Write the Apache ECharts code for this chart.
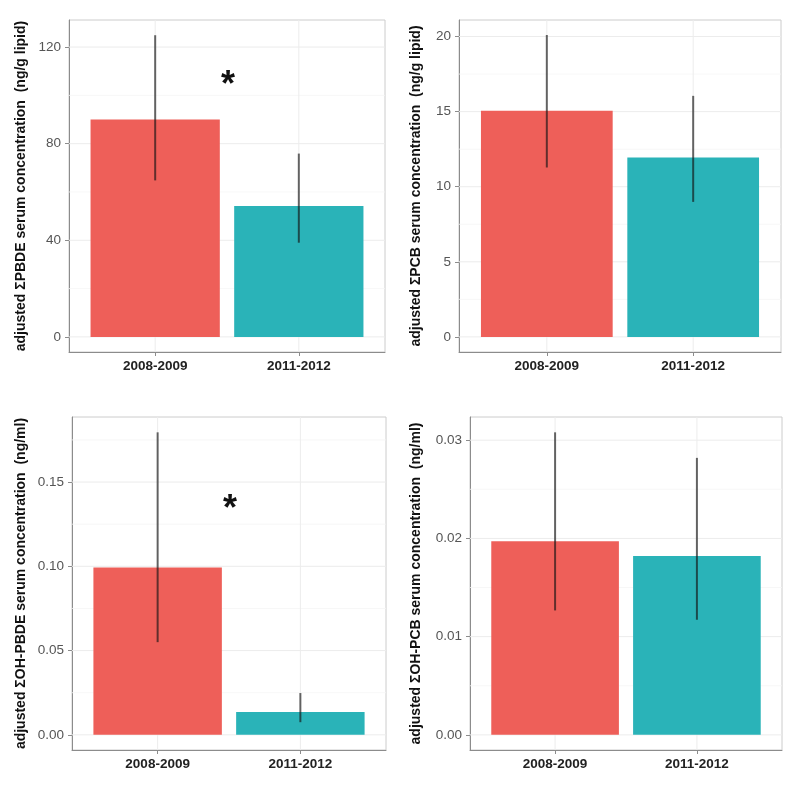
<!DOCTYPE html>
<html>
<head>
<meta charset="utf-8">
<script src="https://cdn.jsdelivr.net/npm/echarts@6/dist/echarts.min.js"></script>
<style>
html,body{margin:0;padding:0;background:#fff;}
#chart{width:800px;height:785px;}
</style>
</head>
<body>
<div id="chart"></div>
<script>
// ---- data ----
const categories = ['2008-2009', '2011-2012'];
const xPositions = [1, 2];

const pbdeMean = [90.0, 54.2];
const pbdeLow  = [64.8, 39.0];
const pbdeHigh = [124.9, 75.9];
const pbdeTicks = [0, 40, 80, 120];
const pbdeMinor = [20, 60, 100];
const pbdeStar = [1.5, 107];

const pcbMean = [15.05, 11.94];
const pcbLow  = [11.28, 8.99];
const pcbHigh = [20.1, 16.05];
const pcbTicks = [0, 5, 10, 15, 20];
const pcbMinor = [2.5, 7.5, 12.5, 17.5];

const ohpbdeMean = [0.0993, 0.0135];
const ohpbdeLow  = [0.055, 0.0075];
const ohpbdeHigh = [0.1795, 0.0248];
const ohpbdeTicks = [0, 0.05, 0.10, 0.15];
const ohpbdeMinor = [0.025, 0.075, 0.125, 0.175];
const ohpbdeStar = [1.5, 0.138];

const ohpcbMean = [0.0197, 0.0182];
const ohpcbLow  = [0.01267, 0.01172];
const ohpcbHigh = [0.0308, 0.0282];
const ohpcbTicks = [0, 0.01, 0.02, 0.03];
const ohpcbMinor = [0.005, 0.015, 0.025];

const yTitles = [
  'adjusted \u03A3PBDE serum concentration  (ng/g lipid)',
  'adjusted \u03A3PCB serum concentration  (ng/g lipid)',
  'adjusted \u03A3OH-PBDE serum concentration  (ng/ml)',
  'adjusted \u03A3OH-PCB serum concentration  (ng/ml)'
];

// ---- layout / style ----
const barColors = ['#EE5F59', '#2AB3B8'];
const FONT = '"Liberation Sans", Arial, Helvetica, sans-serif';
const panels = [
  {mean: pbdeMean, low: pbdeLow, high: pbdeHigh, ticks: pbdeTicks, minor: pbdeMinor, star: pbdeStar, dec: 0,
   min: -6.25, max: 131.2, grid: {left: 69, top: 20, width: 316, height: 332}, nameGap: 41},
  {mean: pcbMean, low: pcbLow, high: pcbHigh, ticks: pcbTicks, minor: pcbMinor, star: null, dec: 0,
   min: -1.005, max: 21.1, grid: {left: 459, top: 20, width: 322, height: 332}, nameGap: 36},
  {mean: ohpbdeMean, low: ohpbdeLow, high: ohpbdeHigh, ticks: ohpbdeTicks, minor: ohpbdeMinor, star: ohpbdeStar, dec: 2,
   min: -0.009, max: 0.1886, grid: {left: 72, top: 417, width: 314, height: 333}, nameGap: 44},
  {mean: ohpcbMean, low: ohpcbLow, high: ohpcbHigh, ticks: ohpcbTicks, minor: ohpcbMinor, star: null, dec: 2,
   min: -0.00154, max: 0.03236, grid: {left: 470, top: 417, width: 312, height: 333}, nameGap: 47}
];

const grids = [], xAxes = [], yAxes = [], series = [];

panels.forEach((p, i) => {
  grids.push(Object.assign({show: true, borderColor: '#cccccc', borderWidth: 1, backgroundColor: 'transparent'}, p.grid));
  xAxes.push({
    type: 'value', gridIndex: i, min: 0.4, max: 2.6,
    axisLine: {show: true, onZero: false, lineStyle: {color: '#8c8c8c', width: 1}},
    axisTick: {show: true, customValues: xPositions, length: 4, lineStyle: {color: '#8c8c8c'}},
    axisLabel: {show: true, customValues: xPositions, formatter: v => categories[Math.round(v) - 1],
      fontFamily: FONT, fontWeight: 'bold', fontSize: 13.5, color: '#222', margin: 7},
    splitLine: {show: false}
  });
  yAxes.push({
    type: 'value', gridIndex: i, min: p.min, max: p.max,
    name: yTitles[i], nameLocation: 'middle', nameGap: p.nameGap, nameRotate: 90,
    nameTextStyle: {fontFamily: FONT, fontWeight: 'bold', fontSize: 14, color: '#111'},
    axisLine: {show: true, onZero: false, lineStyle: {color: '#8c8c8c', width: 1}},
    axisTick: {show: true, customValues: p.ticks, length: 4, lineStyle: {color: '#8c8c8c'}},
    axisLabel: {show: true, customValues: p.ticks, formatter: v => v.toFixed(p.dec),
      fontFamily: FONT, fontSize: 13.5, color: '#555', margin: 8},
    splitLine: {show: false}
  });

  // grid lines (major and minor, horizontal), vertical at categories
  series.push({
    type: 'custom', xAxisIndex: i, yAxisIndex: i, silent: true, z: 1,
    data: p.ticks.map(v => [v, 1]).concat(p.minor.map(v => [v, 0])),
    renderItem: (params, api) => {
      const v = api.value(0), major = api.value(1) === 1;
      const a = api.coord([0.4, v]), b = api.coord([2.6, v]);
      return {type: 'line', shape: {x1: a[0], y1: a[1], x2: b[0], y2: b[1]},
        style: {stroke: major ? '#ececec' : '#f5f5f5', lineWidth: major ? 1 : 0.8}};
    }
  });
  series.push({
    type: 'custom', xAxisIndex: i, yAxisIndex: i, silent: true, z: 1,
    data: xPositions.map(x => [x]),
    renderItem: (params, api) => {
      const x = api.value(0);
      const a = api.coord([x, p.min]), b = api.coord([x, p.max]);
      return {type: 'line', shape: {x1: a[0], y1: a[1], x2: b[0], y2: b[1]},
        style: {stroke: '#ececec', lineWidth: 1}};
    }
  });
  // bars
  series.push({
    type: 'custom', xAxisIndex: i, yAxisIndex: i, z: 2,
    data: xPositions.map((x, k) => [x, p.mean[k]]),
    renderItem: (params, api) => {
      const x = api.value(0), y = api.value(1);
      const a = api.coord([x - 0.45, y]), b = api.coord([x + 0.45, 0]);
      return {type: 'rect', shape: {x: a[0], y: a[1], width: b[0] - a[0], height: b[1] - a[1]},
        style: {fill: barColors[params.dataIndex]}};
    }
  });
  // error bars
  series.push({
    type: 'custom', xAxisIndex: i, yAxisIndex: i, z: 3,
    data: xPositions.map((x, k) => [x, p.low[k], p.high[k]]),
    renderItem: (params, api) => {
      const x = api.value(0);
      const a = api.coord([x, api.value(1)]), b = api.coord([x, api.value(2)]);
      return {type: 'line', shape: {x1: a[0], y1: a[1], x2: b[0], y2: b[1]},
        style: {stroke: 'rgba(20,20,20,0.65)', lineWidth: 2}};
    }
  });
  // significance star
  if (p.star) {
    series.push({
      type: 'custom', xAxisIndex: i, yAxisIndex: i, z: 4,
      data: [p.star],
      renderItem: (params, api) => {
        const c = api.coord([api.value(0), api.value(1)]);
        return {type: 'text', x: c[0] + 1, y: c[1] + 8,
          style: {text: '*', font: 'bold 36px ' + FONT, fill: '#111', align: 'center', verticalAlign: 'middle'}};
      }
    });
  }
});

const chart = echarts.init(document.getElementById('chart'), null, {renderer: 'canvas'});
chart.setOption({
  animation: false,
  backgroundColor: '#ffffff',
  grid: grids,
  xAxis: xAxes,
  yAxis: yAxes,
  series: series
});
</script>
</body>
</html>
